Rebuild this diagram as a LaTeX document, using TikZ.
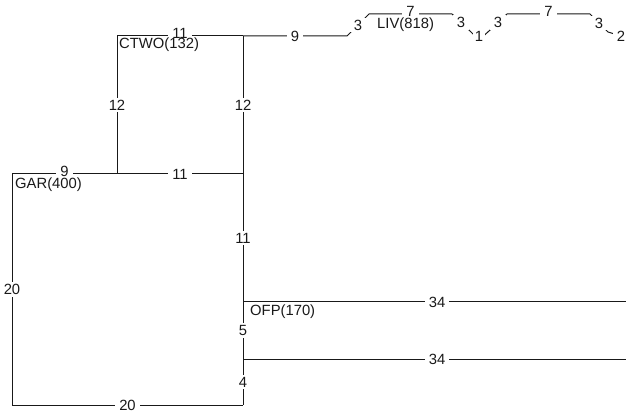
\documentclass[tikz,border=0pt]{standalone}
\usepackage{fontspec}
\setmainfont{Liberation Sans}
\begin{document}
\begin{tikzpicture}[x=1pt,y=-1pt,
  font=\fontsize{14.8}{15}\selectfont,
  edge/.style={line width=1pt, draw=black!90},
  lbl/.style={fill=white, inner xsep=4pt, inner ysep=2pt, text=black!90},
  slbl/.style={fill=white, inner xsep=1.5pt, inner ysep=2pt, text=black!90},
  nm/.style={anchor=west, inner sep=0pt, text=black!90}]
\useasboundingbox (0,0) rectangle (626,411);
\clip (0,0) rectangle (626,411);
% coordinates
\coordinate (ctwo) at (117,36);
\coordinate (j1) at (243,36);
\coordinate (a1) at (347,36);
\coordinate (a2) at (369,14);
\coordinate (a3) at (452,14);
\coordinate (a4) at (470,31);
\coordinate (a5) at (479,40);
\coordinate (a6) at (489,31);
\coordinate (a7) at (507,14);
\coordinate (a8) at (590,14);
\coordinate (a9) at (608,32);
\coordinate (a10) at (634,40);
\coordinate (gar) at (12,174);
\coordinate (g1) at (117,174);
\coordinate (j2) at (243,174);
\coordinate (ofp) at (243,302);
\coordinate (o2) at (631,302);
\coordinate (j3) at (243,359);
\coordinate (o3) at (631,359);
\coordinate (bot) at (243,405);
\coordinate (bl) at (12,405);
% top chain
\draw[edge] (ctwo) -- node[lbl, yshift=3pt] {11} (j1);
\draw[edge] (j1) -- node[lbl] {9} (a1) -- node[lbl] {3} (a2) -- node[lbl, yshift=2.5pt] {7} (a3)
  -- node[lbl] {3} (a4);
\draw[edge] (a4) -- (a5) -- (a6);
\node[slbl] (one) at (479,36) {1};
\draw[edge] (a6) -- node[lbl] {3} (a7) -- node[lbl, yshift=2.5pt] {7} (a8) -- node[lbl] {3} (a9)
  -- node[lbl] {2} (a10);
% CTWO vertical
\draw[edge] (ctwo) -- node[lbl] {12} (g1);
% main vertical
\draw[edge] (j1) -- node[lbl] {12} (j2);
\draw[edge] (j2) -- node[lbl] {11} (ofp);
\draw[edge] (ofp) -- node[lbl] {5} (j3);
\draw[edge] (j3) -- node[lbl] {4} (bot);
% GAR line
\draw[edge] (gar) -- node[lbl, yshift=3pt] {9} (g1);
\draw[edge] (g1) -- node[lbl] {11} (j2);
% loop
\draw[edge] (gar) -- node[lbl] {20} (bl);
\draw[edge] (bl) -- node[lbl] {20} (bot);
% right lines
\draw[edge] (ofp) -- node[lbl] {34} (o2);
\draw[edge] (j3) -- node[lbl] {34} (o3);
% names
\node[nm] (ctwon) at (119,45) {CTWO(132)};
\node[nm] (garn) at (15,185) {GAR(400)};
\node[nm] (ofpn) at (250,312) {OFP(170)};
\node[nm] (livn) at (377,25) {LIV(818)};
\end{tikzpicture}
\end{document}
